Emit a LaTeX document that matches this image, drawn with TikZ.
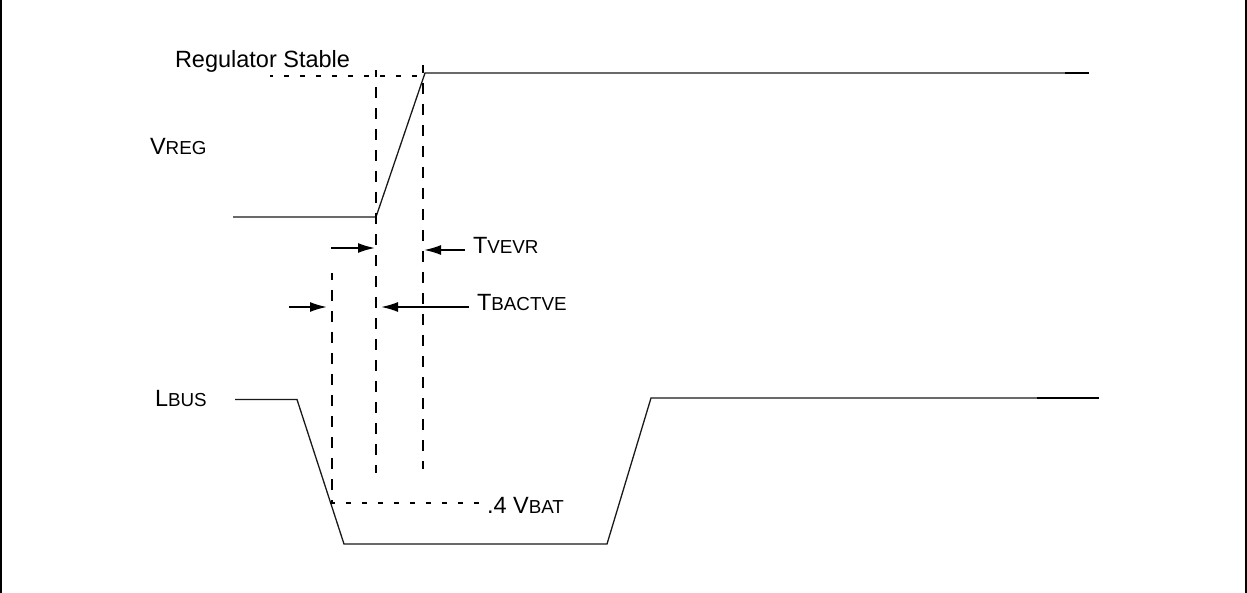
\documentclass[tikz,border=0pt]{standalone}
\usepackage{fontspec}
\setmainfont{Liberation Sans}
\usetikzlibrary{arrows.meta}
\newcommand{\bigsmall}[2]{{\fontsize{23.5}{27}\selectfont #1}{\fontsize{18.8}{20}\selectfont #2}}
\tikzset{
  wave/.style={line width=1.3pt,black!90,line join=miter},
  waveend/.style={line width=1.8pt,black},
  longdash/.style={line width=2.1pt,dash pattern=on 11pt off 10pt},
  shortdash/.style={line width=2pt,dash pattern=on 5pt off 11pt},
  timearrow/.style={line width=1.8pt,-{Latex[length=17pt,width=10pt]}},
  frameline/.style={line width=2pt},
  lab/.style={anchor=base west,inner sep=0pt,outer sep=0pt,font=\fontsize{23.5}{27}\selectfont}
}
\begin{document}
\begin{tikzpicture}[x=1pt,y=-1pt]
\useasboundingbox (0,0) rectangle (1247,593);
% frame
\coordinate (fla) at (1,0); \coordinate (flb) at (1,593);
\coordinate (fra) at (1246,0); \coordinate (frb) at (1246,593);
\draw[frameline] (fla) -- (flb);
\draw[frameline] (fra) -- (frb);
% waveforms
\coordinate (r0) at (233,217); \coordinate (r1) at (376,217); \coordinate (r2) at (425,73);
\coordinate (r3) at (1065,73); \coordinate (r4) at (1089,73);
\draw[wave] (r0) -- (r1) -- (r2) -- (r3);
\draw[waveend] (r3) -- (r4);
\coordinate (b0) at (235,399.5); \coordinate (b1) at (297,399.5); \coordinate (b2) at (344,544);
\coordinate (b3) at (607,544); \coordinate (b4) at (651,398); \coordinate (b5) at (1037,398); \coordinate (b6) at (1099,398);
\draw[wave] (b0) -- (b1) -- (b2) -- (b3) -- (b4) -- (b5);
\draw[waveend] (b5) -- (b6);
% dashed guides
\coordinate (d1a) at (376,70); \coordinate (d1b) at (376,472.7);
\coordinate (d2a) at (423,65); \coordinate (d2b) at (423,469);
\coordinate (d3a) at (332,273); \coordinate (d3b) at (332,503);
\draw[longdash,dash phase=4pt] (d1a) -- (d1b);
\draw[longdash,dash phase=3pt] (d2a) -- (d2b);
\draw[longdash,dash phase=4pt] (d3a) -- (d3b);
\coordinate (h1a) at (270,75.7); \coordinate (h1b) at (423,75.7);
\coordinate (h2a) at (330,502.7); \coordinate (h2b) at (480,502.7);
\draw[shortdash,dash phase=1.7pt] (h1a) -- (h1b);
\draw[shortdash] (h2a) -- (h2b);
% arrows
\coordinate (a1a) at (331,248); \coordinate (a1b) at (375,248);
\coordinate (a2a) at (465,250); \coordinate (a2b) at (424,250);
\coordinate (a3a) at (289,307); \coordinate (a3b) at (327,307);
\coordinate (a4a) at (469,307); \coordinate (a4b) at (381,307);
\draw[timearrow] (a1a) -- (a1b);
\draw[timearrow] (a2a) -- (a2b);
\draw[timearrow] (a3a) -- (a3b);
\draw[timearrow] (a4a) -- (a4b);
% labels
\node[lab] (tstable) at (175,68) {Regulator Stable};
\node[lab] (tvreg) at (150,155) {\bigsmall{V}{REG}};
\node[lab] (ttvevr) at (473,254) {\bigsmall{T}{VEVR}};
\node[lab] (ttbact) at (477,311) {\bigsmall{T}{BACTVE}};
\node[lab] (tlbus) at (155,406) {\bigsmall{L}{BUS}};
\node[lab] (tvbat) at (487,513) {\bigsmall{.4 V}{BAT}};
\end{tikzpicture}
\end{document}
